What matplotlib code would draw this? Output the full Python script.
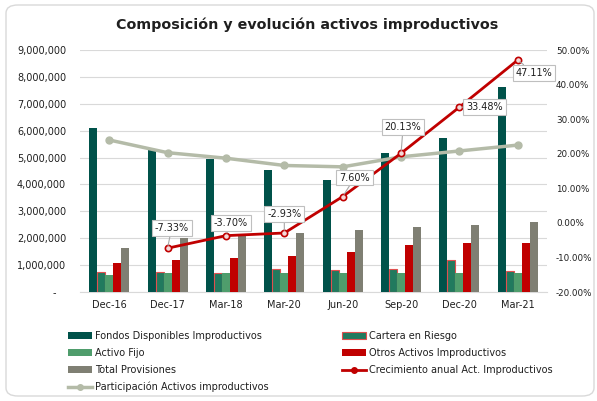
import numpy as np
import matplotlib
matplotlib.use("Agg")
import matplotlib.pyplot as plt
from matplotlib.patches import FancyBboxPatch
from matplotlib.lines import Line2D
from matplotlib.patches import Patch
from matplotlib.ticker import FuncFormatter, MultipleLocator

plt.rcParams['font.family'] = ['DejaVu Sans']

categories = ["Dec-16", "Dec-17", "Mar-18", "Mar-20", "Jun-20", "Sep-20", "Dec-20", "Mar-21"]
fondos = [6110000, 5300000, 4960000, 4540000, 4150000, 5180000, 5710000, 7630000]
cartera = [730000, 730000, 720000, 840000, 820000, 850000, 1190000, 790000]
activo_fijo = [640000, 700000, 690000, 700000, 690000, 690000, 720000, 700000]
otros = [1080000, 1200000, 1280000, 1350000, 1500000, 1760000, 1820000, 1810000]
provisiones = [1640000, 2000000, 2160000, 2200000, 2300000, 2420000, 2500000, 2610000]
participacion = [23.97, 20.3, 18.7, 16.6, 16.2, 19.1, 20.8, 22.5]
crecimiento = [np.nan, -7.33, -3.70, -2.93, 7.60, 20.13, 33.48, 47.11]
crec_labels = ["", "-7.33%", "-3.70%", "-2.93%", "7.60%", "20.13%", "33.48%", "47.11%"]

c_fondos = "#00524A"
c_cartera = "#217A5E"
c_cartera_edge = "#E0504F"
c_activo = "#4F9D6C"
c_otros = "#C00000"
c_prov = "#7F7F73"
c_part = "#B4BBA8"
c_crec = "#C00000"
txt = "#1F1F1F"

fig = plt.figure(figsize=(5.97, 4.01), dpi=100)
fig.patch.set_facecolor("white")

border = FancyBboxPatch((6/597, 5/401), 588/597, 391/401,
                        boxstyle="round,pad=0,rounding_size=0.02",
                        transform=fig.transFigure, facecolor="none",
                        edgecolor="#D9D9D9", linewidth=1.0)
fig.patches.append(border)

ax = fig.add_axes([80/597, 1 - 292/401, 467/597, 242/401])
ax2 = ax.twinx()

x = np.arange(len(categories))
w = 0.137
ax.bar(x - 2*w, fondos, w, color=c_fondos, zorder=3)
ax.bar(x - 1*w, cartera, w, color=c_cartera, edgecolor=c_cartera_edge, linewidth=0.8, zorder=3)
ax.bar(x, activo_fijo, w, color=c_activo, zorder=3)
ax.bar(x + 1*w, otros, w, color=c_otros, zorder=3)
ax.bar(x + 2*w, provisiones, w, color=c_prov, zorder=3)

ax.set_xlim(-0.5, len(categories) - 0.5)
ax.set_ylim(0, 9000000)
ax.yaxis.set_major_locator(MultipleLocator(1000000))
ax.yaxis.set_major_formatter(FuncFormatter(lambda v, p: "-   " if v == 0 else f"{int(v):,}"))
ax.grid(axis="y", color="#D9D9D9", linewidth=0.8, zorder=0)
ax.set_axisbelow(True)
for s in ["top", "right", "left"]:
    ax.spines[s].set_visible(False)
ax.spines["bottom"].set_color("#D9D9D9")
ax.set_xticks(x)
ax.set_xticklabels(categories)
ax.tick_params(axis="x", length=0, pad=5.5, labelsize=7, colors=txt)
ax.tick_params(axis="y", length=0, pad=10, labelsize=7, colors=txt)

ax2.plot(x, participacion, color=c_part, linewidth=2.5, marker="o", markersize=5,
         markerfacecolor=c_part, markeredgecolor=c_part, zorder=5)
ax2.plot(x, crecimiento, color=c_crec, linewidth=2, marker="o", markersize=4.5,
         markerfacecolor="#F4D9D9", markeredgecolor=c_crec, markeredgewidth=1.2, zorder=6)
ax2.set_ylim(-20, 50)
ax2.yaxis.set_major_locator(MultipleLocator(10))
ax2.yaxis.set_major_formatter(FuncFormatter(lambda v, p: f"{v:.2f}%"))
ax2.tick_params(axis="y", length=0, pad=6.5, labelsize=6.3, colors=txt)
for s in ["top", "right", "left", "bottom"]:
    ax2.spines[s].set_visible(False)

offsets = [(0, 0), (4, 20), (5, 13), (0, 19), (12, 19), (2, 26), (25, 0), (16, -13)]
for i, (val, lab) in enumerate(zip(crecimiento, crec_labels)):
    if not lab:
        continue
    ax2.annotate(lab, xy=(x[i], val), xytext=offsets[i], textcoords="offset pixels",
                 ha="center", va="center", fontsize=7, color=txt, zorder=10,
                 bbox=dict(boxstyle="square,pad=0.3", facecolor="white",
                           edgecolor="#BFBFBF", linewidth=0.8),
                 arrowprops=dict(arrowstyle="-", color="#A6A6A6", linewidth=0.8,
                                 shrinkA=0, shrinkB=2))

fig.text(307/597, 1 - 25/401, "Composición y evolución activos improductivos",
         ha="center", va="center", fontsize=10.3, fontweight="bold", color=txt)

h_fondos = Patch(facecolor=c_fondos)
h_cartera = Patch(facecolor=c_cartera, edgecolor=c_cartera_edge, linewidth=0.8)
h_activo = Patch(facecolor=c_activo)
h_otros = Patch(facecolor=c_otros)
h_prov = Patch(facecolor=c_prov)
h_part = Line2D([], [], color=c_part, linewidth=2.5, marker="o", markersize=4)
h_crec = Line2D([], [], color=c_crec, linewidth=2, marker="o", markersize=4)

common = dict(frameon=False, fontsize=7, handlelength=2.5, handleheight=0.6,
              handletextpad=0.25, labelspacing=0.72, borderpad=0, borderaxespad=0,
              labelcolor=txt)
leg1 = fig.legend([h_fondos, h_activo, h_prov, h_part],
                  ["Fondos Disponibles Improductivos", "Activo Fijo", "Total Provisiones",
                   "Participación Activos improductivos"],
                  loc="upper left", bbox_to_anchor=(68/597, 1 - 331/401), **common)
leg2 = fig.legend([h_cartera, h_otros, h_crec],
                  ["Cartera en Riesgo", "Otros Activos Improductivos",
                   "Crecimiento anual Act. Improductivos"],
                  loc="upper left", bbox_to_anchor=(342/597, 1 - 331/401), **common)

fig.savefig("out.png", dpi=100)
